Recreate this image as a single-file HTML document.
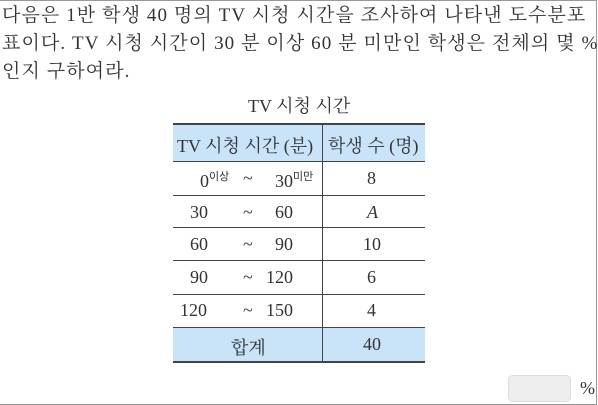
<!DOCTYPE html>
<html><head><meta charset="utf-8"><style>
body{margin:0;width:598px;height:405px;overflow:hidden;background:#fff;font-family:"Liberation Serif","Noto Serif CJK SC","Noto Sans CJK KR",serif;color:#333}
#frame{position:absolute;left:0;top:0;width:596px;height:403px;border:1px solid #999;border-left:none}
.q{position:absolute;left:2px;top:2px;font-size:19px;line-height:28px;width:594px;white-space:nowrap;letter-spacing:1.1px}
.t{position:absolute;font-size:18px;white-space:nowrap}
.hl{position:absolute;left:173px;width:252px;background:#c9e4f9}
.ln{position:absolute;left:173px;width:252px;height:1px;background:#444}
sup{font-family:"Liberation Sans","Noto Sans CJK KR",sans-serif;font-size:11px;vertical-align:7px}
</style></head><body>
<div id="frame"></div>
<div class="q">다음은 1반 학생 40 명의 TV 시청 시간을 조사하여 나타낸 도수분포<br>표이다. TV 시청 시간이 30 분 이상 60 분 미만인 학생은 전체의 몇 %<br>인지 구하여라.</div>
<div class="t" style="left:248px;top:92px">TV 시청 시간</div>
<div>
<div class="hl" style="top:124px;height:37px"></div>
<div class="hl" style="top:328px;height:34px"></div>
<div class="ln" style="top:123px;height:2px"></div>
<div class="ln" style="top:161px"></div>
<div class="ln" style="top:195px"></div>
<div class="ln" style="top:227px"></div>
<div class="ln" style="top:260px"></div>
<div class="ln" style="top:294px"></div>
<div class="ln" style="top:327px"></div>
<div class="ln" style="top:361px;height:2px"></div>
<div style="position:absolute;left:322px;top:124px;width:1px;height:238px;background:#444"></div>
<div class="t" style="left:177px;top:132px">TV 시청 시간 (분)</div>
<div class="t" style="left:328px;top:132px">학생 수 (명)</div>
<div class="t" style="left:200px;top:168px">0<sup>이상</sup></div><div class="t" style="left:243px;top:168px">~</div><div class="t" style="left:275px;top:168px">30<sup>미만</sup></div><div class="t" style="left:367px;top:168px">8</div>
<div class="t" style="left:190px;top:202px">30</div><div class="t" style="left:243px;top:202px">~</div><div class="t" style="left:275px;top:202px">60</div><div class="t" style="left:367px;top:202px;font-style:italic">A</div>
<div class="t" style="left:190px;top:234px">60</div><div class="t" style="left:243px;top:234px">~</div><div class="t" style="left:275px;top:234px">90</div><div class="t" style="left:363px;top:234px">10</div>
<div class="t" style="left:190px;top:267px">90</div><div class="t" style="left:243px;top:267px">~</div><div class="t" style="left:266px;top:267px">120</div><div class="t" style="left:367px;top:267px">6</div>
<div class="t" style="left:180px;top:300px">120</div><div class="t" style="left:243px;top:300px">~</div><div class="t" style="left:266px;top:300px">150</div><div class="t" style="left:367px;top:300px">4</div>
<div class="t" style="left:231px;top:334px">합계</div><div class="t" style="left:363px;top:334px">40</div>
</div>
<div style="position:absolute;left:508px;top:375px;width:63px;height:27px;background:#eee;border:1px solid #ddd;border-radius:5px;box-sizing:border-box"></div>
<div class="t" style="left:580px;top:378px">%</div>
</body></html>
